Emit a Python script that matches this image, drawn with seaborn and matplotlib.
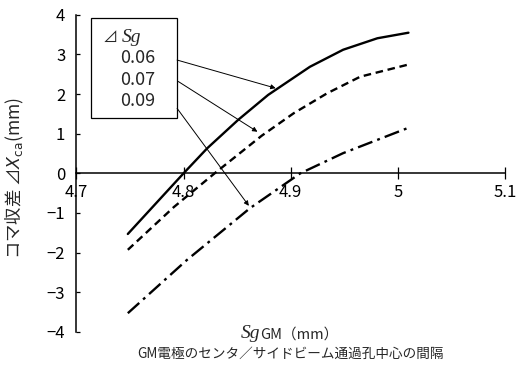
import numpy as np
import pandas as pd
import matplotlib
matplotlib.use("Agg")
import matplotlib.pyplot as plt
import seaborn as sns
from matplotlib.patches import Rectangle

# ---- data ----
x_006 = [4.748, 4.800, 4.822, 4.851, 4.879, 4.918, 4.949, 4.981, 5.010]
y_006 = [-1.53, 0.00, 0.63, 1.35, 1.98, 2.69, 3.12, 3.41, 3.55]

x_007 = [4.748, 4.791, 4.829, 4.873, 4.903, 4.934, 4.965, 5.009]
y_007 = [-1.93, -0.85, 0.00, 0.95, 1.52, 2.02, 2.44, 2.74]

x_009 = [4.748, 4.803, 4.862, 4.909, 4.949, 5.009]
y_009 = [-3.53, -2.19, -0.88, 0.00, 0.51, 1.14]

series_labels = ["0.06", "0.07", "0.09"]
x_ticks = [4.7, 4.8, 4.9, 5.0, 5.1]
x_ticklabels = ["4.7", "4.8", "4.9", "5", "5.1"]
y_ticks = [-4, -3, -2, -1, 0, 1, 2, 3, 4]
y_ticklabels = ["−4", "−3", "−2", "−1", "0", "1", "2", "3", "4"]

df = pd.concat([
    pd.DataFrame({"x": x_006, "y": y_006, "sg": series_labels[0]}),
    pd.DataFrame({"x": x_007, "y": y_007, "sg": series_labels[1]}),
    pd.DataFrame({"x": x_009, "y": y_009, "sg": series_labels[2]}),
], ignore_index=True)

sns.set_theme(style="white")
plt.rcParams["font.family"] = ["Noto Sans CJK JP", "DejaVu Sans"]
plt.rcParams["mathtext.fontset"] = "dejavusans"

SERIF_IT = ["Liberation Serif", "DejaVu Sans", "Noto Sans CJK JP"]

fig = plt.figure(figsize=(5.27, 3.72), dpi=100)
ax = fig.add_axes([0.145, 0.108, 0.813, 0.852])

sns.lineplot(data=df, x="x", y="y", style="sg", color="black",
             dashes={"0.06": "", "0.07": (3.2, 2.0), "0.09": (6.5, 2.2, 1.2, 2.2)},
             linewidth=1.7, legend=False, ax=ax, sort=False)

ax.set_xlim(4.7, 5.1)
ax.set_ylim(-4, 4)
ax.set_xticks(x_ticks)
ax.set_xticklabels(x_ticklabels)
ax.set_yticks(y_ticks)
ax.set_yticklabels(y_ticklabels)
ax.set_xlabel("")
ax.set_ylabel("")

for s in ["top", "right"]:
    ax.spines[s].set_visible(False)
ax.spines["bottom"].set_position(("data", 0))
for s in ["left", "bottom"]:
    ax.spines[s].set_color("black")
    ax.spines[s].set_linewidth(1.1)

ax.tick_params(axis="x", direction="inout", length=9, width=0.9, pad=3,
               labelsize=12, colors="black", bottom=True)
ax.tick_params(axis="y", direction="in", length=3, width=0.9, pad=8,
               labelsize=12, colors="black", left=True)

# legend box
ax.add_patch(Rectangle((4.714, 1.39), 0.080, 2.52, fill=False,
                       edgecolor="black", linewidth=0.9, zorder=3))
ax.text(4.7245, 3.42, "⊿", fontsize=11, va="center", ha="left")
ax.text(4.7425, 3.42, "Sg", fontsize=14, style="italic",
        family=SERIF_IT, va="center", ha="left")
for lab, yy in zip(series_labels, [2.90, 2.35, 1.83]):
    ax.text(4.757, yy, lab, fontsize=13, va="center", ha="center")

# arrows from legend labels to curves
arrow_kw = dict(arrowstyle="-|>", color="black", lw=0.7,
                mutation_scale=7, shrinkA=0, shrinkB=0)
ax.annotate("", xy=(4.886, 2.15), xytext=(4.794, 2.86), arrowprops=arrow_kw)
ax.annotate("", xy=(4.869, 1.05), xytext=(4.795, 2.32), arrowprops=arrow_kw)
ax.annotate("", xy=(4.861, -0.82), xytext=(4.794, 1.64), arrowprops=arrow_kw)

# axis titles
fig.text(15 / 527, 1 - 178 / 372, "コマ収差 ⊿$X_{\\rm ca}$(mm)", rotation=90,
         fontsize=12.5, va="center", ha="center")
fig.text(260 / 527, 1 - 334 / 372, "Sg", fontsize=14, style="italic",
         family=SERIF_IT, ha="right", va="center")
fig.text(260 / 527, 1 - 335 / 372, "GM（mm）", fontsize=10.5,
         ha="left", va="center")
fig.text(290 / 527, 1 - 354 / 372, "GM電極のセンタ／サイドビーム通過孔中心の間隔",
         fontsize=9.8, ha="center", va="center")

fig.savefig("out.png", dpi=100)
